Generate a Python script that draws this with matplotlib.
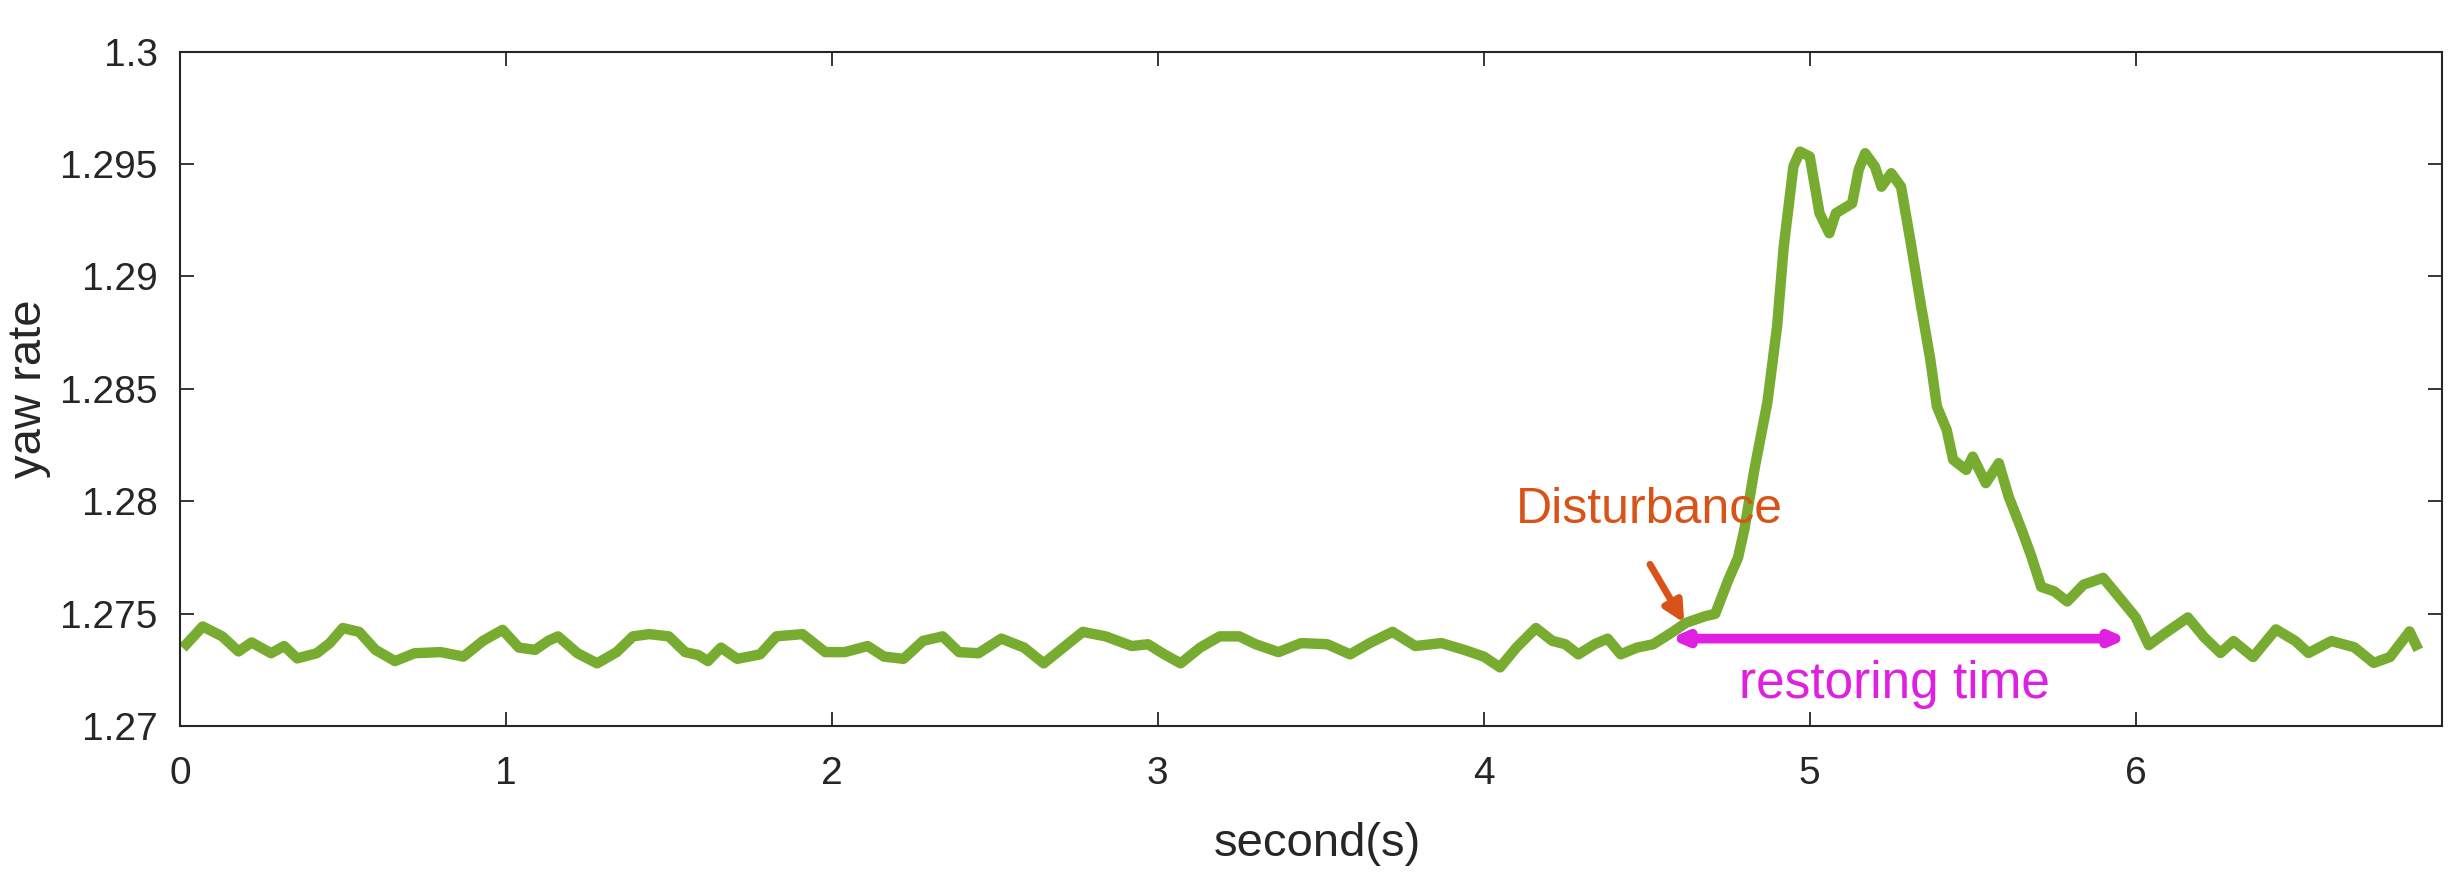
import numpy as np
import matplotlib
matplotlib.use("Agg")
import matplotlib.pyplot as plt

plt.rcParams['font.family'] = ['Liberation Sans', 'DejaVu Sans']

# yaw rate trace
t = [0.02, 0.07, 0.13, 0.18, 0.22, 0.28, 0.32, 0.36, 0.42, 0.46, 0.50, 0.55,
     0.60, 0.66, 0.72, 0.80, 0.87, 0.93, 0.99, 1.04, 1.09, 1.13, 1.16, 1.22,
     1.28, 1.34, 1.39, 1.44, 1.50, 1.55, 1.59, 1.62, 1.66,
     1.71, 1.78, 1.83, 1.91, 1.98, 2.04, 2.11, 2.16, 2.22, 2.28, 2.34, 2.39,
     2.45, 2.52, 2.59, 2.65, 2.71, 2.77, 2.84, 2.92, 2.97, 3.02, 3.07, 3.13,
     3.19, 3.25, 3.30, 3.37,
     3.44, 3.52, 3.59, 3.65, 3.72, 3.79, 3.87, 3.94, 4.00, 4.05, 4.10, 4.16,
     4.21, 4.25, 4.29, 4.34, 4.38, 4.42, 4.47, 4.52, 4.58, 4.62, 4.68, 4.71,
     4.75, 4.78, 4.80, 4.83, 4.87, 4.90, 4.92, 4.95, 4.97, 5.00, 5.03, 5.06,
     5.08, 5.13, 5.15, 5.17, 5.20, 5.22, 5.25, 5.28, 5.31, 5.34, 5.37, 5.39,
     5.42, 5.44, 5.48, 5.50, 5.54, 5.58, 5.61, 5.65, 5.68, 5.71, 5.75, 5.79,
     5.84, 5.90, 5.96, 6.00, 6.04, 6.09, 6.16, 6.21, 6.26, 6.30, 6.36, 6.43,
     6.49, 6.53, 6.60, 6.67, 6.73, 6.78, 6.84, 6.86]
yaw = [1.27365, 1.27444, 1.2740, 1.27333, 1.27373, 1.27325, 1.27357, 1.27302,
       1.27325, 1.2737, 1.27437, 1.2742, 1.2734, 1.2729, 1.27325, 1.2733,
       1.2731, 1.2738, 1.27429, 1.2735, 1.2734, 1.2738, 1.2740, 1.27325,
       1.2728, 1.2733, 1.2740, 1.2741, 1.2740, 1.2733, 1.27317, 1.2729, 1.2735,
       1.2730, 1.2732, 1.2740, 1.2741, 1.2733, 1.2733, 1.27357, 1.2731, 1.2730,
       1.2738, 1.2740, 1.2733, 1.27325, 1.2739, 1.2735, 1.2728, 1.2735, 1.2742,
       1.2740, 1.27357, 1.27365, 1.2732, 1.2728, 1.2735, 1.2740, 1.2740,
       1.27365, 1.2733,
       1.2737, 1.27365, 1.2732, 1.2737, 1.2742, 1.27357, 1.2737, 1.2734,
       1.2731, 1.27262, 1.2735, 1.27437, 1.2738, 1.27365, 1.2732, 1.27365,
       1.2739, 1.2732, 1.2735, 1.27365, 1.2742, 1.2746, 1.2749, 1.2750,
       1.2765, 1.2775, 1.2788, 1.2814, 1.2844, 1.2878, 1.2913, 1.2949, 1.29555,
       1.29533, 1.29281, 1.29192, 1.29281, 1.29325, 1.29474, 1.29548, 1.29488,
       1.29399, 1.29459, 1.29399, 1.29148, 1.28881, 1.28629, 1.28422, 1.28318,
       1.28185, 1.2814, 1.28199, 1.28081, 1.2817, 1.28022, 1.27874, 1.27755,
       1.2762, 1.2760, 1.27555, 1.2763, 1.2766, 1.27555, 1.27484, 1.27361,
       1.27414, 1.27484, 1.27396, 1.27326, 1.27379, 1.27308, 1.27431, 1.27379,
       1.27326, 1.27379, 1.27352, 1.27282, 1.27308, 1.27422, 1.27361]

x_ticks = [0, 1, 2, 3, 4, 5, 6]
y_ticks = [1.27, 1.275, 1.28, 1.285, 1.29, 1.295, 1.3]
y_tick_labels = ["1.27", "1.275", "1.28", "1.285", "1.29", "1.295", "1.3"]

disturb_tip = (4.615, 1.2746)
disturb_tail = (4.51, 1.2772)
restore_span = (4.57, 5.975)
restore_y = 1.2739

fig = plt.figure(figsize=(24.5, 8.73), dpi=100)
ax = fig.add_axes([0.0734, 0.168, 0.9234, 0.773])

ax.plot(t, yaw, color="#77AC30", linewidth=7.5, solid_joinstyle="round")

ax.set_xlim(0, 6.94)
ax.set_ylim(1.27, 1.3)
ax.set_xticks(x_ticks)
ax.set_yticks(y_ticks)
ax.set_yticklabels(y_tick_labels)

grey = "#262626"
ax.tick_params(direction="in", length=10, width=1.3, top=True, right=True,
               labelsize=28, colors=grey)
ax.tick_params(axis="x", pad=21)
ax.tick_params(axis="y", pad=16)
for s in ax.spines.values():
    s.set_color(grey)
    s.set_linewidth(1.5)

ax.set_xlabel("second(s)", fontsize=34, color=grey)
ax.set_ylabel("yaw rate", fontsize=34, color=grey)
ax.xaxis.set_label_coords(0.503, -0.142)
ax.yaxis.set_label_coords(-0.057, 0.5)

# disturbance marker
ax.annotate("", xy=disturb_tip, xytext=disturb_tail,
            arrowprops=dict(arrowstyle="-|>,head_length=1.2,head_width=0.6",
                            color="#D95319", lw=5, shrinkA=0, shrinkB=0))
ax.text(4.1, 1.2796, "Disturbance", fontsize=36, color="#D95319",
        ha="left", va="center")

# restoring time span
ax.annotate("", xy=(restore_span[1], restore_y), xytext=(restore_span[0], restore_y),
            arrowprops=dict(arrowstyle="<|-|>,head_length=0.8,head_width=0.35",
                            color="#E020E0", lw=7, shrinkA=0, shrinkB=0))
ax.text(5.26, 1.27188, "restoring time", fontsize=37,
        color="#E020E0", ha="center", va="center")

fig.savefig("out.png", dpi=100)
